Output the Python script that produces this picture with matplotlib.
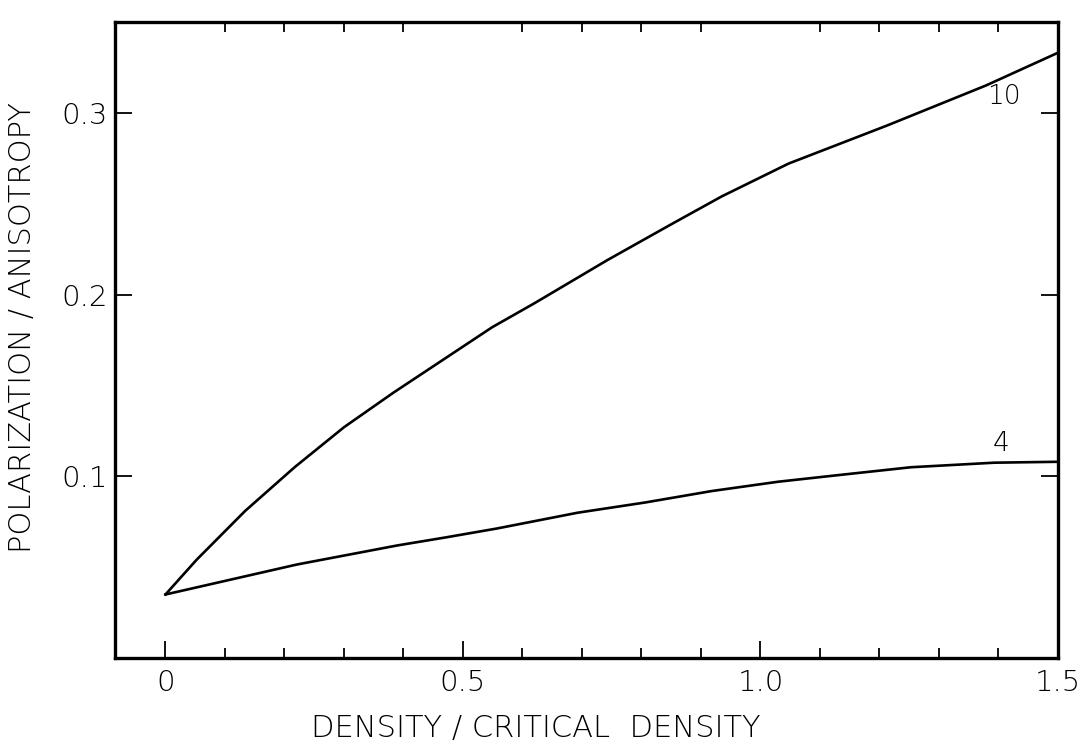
import matplotlib.pyplot as plt
from matplotlib.ticker import MultipleLocator

# Data
density_10 = [0.0, 0.052, 0.134, 0.217, 0.300, 0.383, 0.466, 0.549, 0.619, 0.743,
              0.852, 0.935, 1.047, 1.213, 1.379, 1.5]
polar_10 = [0.035, 0.054, 0.081, 0.105, 0.127, 0.146, 0.164, 0.182, 0.195, 0.219,
            0.239, 0.254, 0.272, 0.293, 0.315, 0.333]

density_4 = [0.0, 0.221, 0.39, 0.471, 0.557, 0.693, 0.806, 0.918, 1.029, 1.14,
             1.253, 1.393, 1.5]
polar_4 = [0.035, 0.0515, 0.062, 0.0664, 0.0713, 0.080, 0.0856, 0.0919, 0.097, 0.101,
           0.105, 0.1075, 0.108]

curve_labels = ['10', '4']
label_pos = [(1.41, 0.309), (1.405, 0.118)]

x_ticks = [0, 0.5, 1.0, 1.5]
x_ticklabels = ['0', '0.5', '1.0', '1.5']
y_ticks = [0.1, 0.2, 0.3]
y_ticklabels = ['0.1', '0.2', '0.3']

plt.rcParams['font.family'] = ['DejaVu Sans']
plt.rcParams['font.weight'] = 'light'

fig = plt.figure(figsize=(10.84, 7.53), dpi=100)
ax = fig.add_axes([0.106, 0.126, 0.87, 0.845])

ax.plot(density_10, polar_10, color='black', lw=1.9)
ax.plot(density_4, polar_4, color='black', lw=1.9)

for text, (tx, ty) in zip(curve_labels, label_pos):
    ax.text(tx, ty, text, fontsize=19, ha='center', va='center', fontweight='light')

ax.set_xlim(-0.085, 1.5)
ax.set_ylim(0.0, 0.35)

for side in ax.spines.values():
    side.set_linewidth(2.4)

ax.set_xticks(x_ticks)
ax.set_xticklabels(x_ticklabels)
ax.xaxis.set_minor_locator(MultipleLocator(0.1))
ax.set_yticks(y_ticks)
ax.set_yticklabels(y_ticklabels)

ax.tick_params(axis='x', which='major', direction='in', length=12, width=1.3,
               top=False, labelsize=21, pad=8)
ax.tick_params(axis='x', which='minor', direction='in', length=7, width=1.3,
               top=True)
ax.tick_params(axis='y', which='major', direction='in', length=12, width=1.3,
               right=True, labelsize=21, pad=5)

ax.set_xlabel('DENSITY / CRITICAL  DENSITY', fontsize=22, fontweight='light')
ax.set_ylabel('POLARIZATION / ANISOTROPY', fontsize=22, fontweight='light')
ax.xaxis.set_label_coords(0.446, -0.088)
ax.yaxis.set_label_coords(-0.083, 0.52)

fig.savefig('out.png', dpi=100)
